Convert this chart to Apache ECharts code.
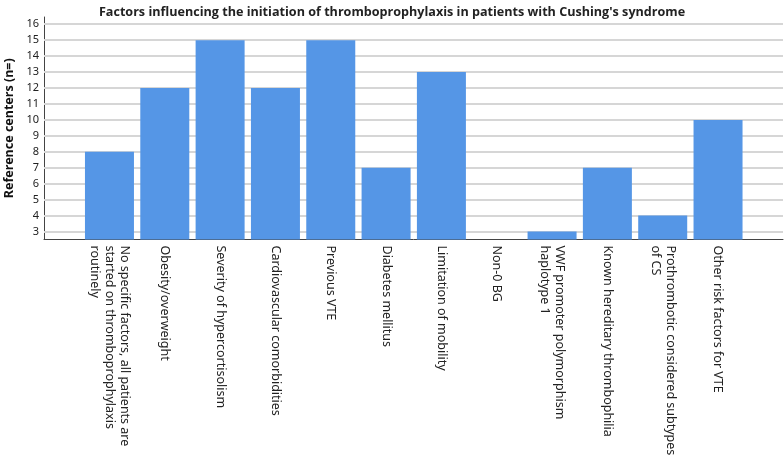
<!DOCTYPE html>
<html>
<head>
<meta charset="UTF-8">
<script src="https://cdn.jsdelivr.net/npm/echarts@6/dist/echarts.min.js"></script>
<style>
html,body{margin:0;padding:0;background:#fff;}
#chart{width:784px;height:455px;}
</style>
</head>
<body>
<div id="chart"></div>
<script>
var categories = [
  'No specific factors, all patients are\nstarted on thromboprophylaxis\nroutinely',
  'Obesity/overweight',
  'Severity of hypercortisolism',
  'Cardiovascular comorbidities',
  'Previous VTE',
  'Diabetes mellitus',
  'Limitation of mobility',
  'Non-0 BG',
  'VWF promoter polymorphism\nhaplotype 1',
  'Known hereditary thrombophilia',
  'Prothrombotic considered subtypes\nof CS',
  'Other risk factors for VTE'
];
var centers = [8, 12, 15, 12, 15, 7, 13, 0, 3, 7, 4, 10];
var yTicks = [3, 4, 5, 6, 7, 8, 9, 10, 11, 12, 13, 14, 15, 16];

var yMin = 2.5, yMax = 16.45;

var chart = echarts.init(document.getElementById('chart'));
chart.setOption({
  animation: false,
  textStyle: { fontFamily: 'Noto Sans' },
  title: {
    text: "Factors influencing the initiation of thromboprophylaxis in patients with Cushing's syndrome",
    left: 'center',
    top: 1,
    textStyle: { fontSize: 12.6, fontWeight: 'bold', color: '#222', fontFamily: 'Open Sans' }
  },
  // outer frame (axes + grid lines) and inner band for the bars
  grid: [
    { left: 44, right: 1, top: 17, bottom: 215.5, outerBoundsMode: 'none' },
    { left: 81.8, right: 38.3, top: 17, bottom: 215.5, outerBoundsMode: 'none' }
  ],
  xAxis: [{
    gridIndex: 0,
    type: 'value',
    min: 0, max: 1,
    splitLine: { show: false },
    axisTick: { show: false },
    axisLabel: { show: false },
    axisLine: { show: true, onZero: false, lineStyle: { color: '#444', width: 1 } }
  }, {
    gridIndex: 1,
    type: 'category',
    data: categories,
    axisLine: { show: false },
    axisTick: { show: false },
    axisLabel: {
      interval: 0,
      rotate: -90,
      margin: 6,
      fontSize: 12.5,
      lineHeight: 15,
      color: '#222'
    }
  }],
  yAxis: [{
    gridIndex: 0,
    type: 'value',
    min: yMin,
    max: yMax,
    name: 'Reference centers (n=)',
    nameLocation: 'middle',
    nameRotate: 90,
    nameGap: 28,
    nameTextStyle: { fontSize: 12.5, fontWeight: 'bold', color: '#111' },
    axisLine: { show: true, onZero: false, lineStyle: { color: '#444', width: 1 } },
    axisTick: { show: false },
    axisLabel: {
      customValues: yTicks,
      margin: 5,
      fontSize: 11,
      color: '#222'
    },
    splitLine: { show: false }
  }, {
    gridIndex: 1,
    type: 'value',
    min: yMin,
    max: yMax,
    show: false,
    splitLine: { show: false }
  }],
  series: [{
    type: 'line',
    xAxisIndex: 0,
    yAxisIndex: 0,
    data: [],
    z: 1,
    markLine: {
      silent: true,
      symbol: 'none',
      z: 1,
      label: { show: false },
      lineStyle: { color: '#d6d6d6', width: 2, type: 'solid' },
      data: yTicks.map(function (t) { return { yAxis: t }; })
    }
  }, {
    type: 'bar',
    xAxisIndex: 1,
    yAxisIndex: 1,
    data: centers,
    barWidth: 49,
    clip: true,
    z: 5,
    itemStyle: { color: '#5596e6' }
  }]
});
</script>
</body>
</html>
